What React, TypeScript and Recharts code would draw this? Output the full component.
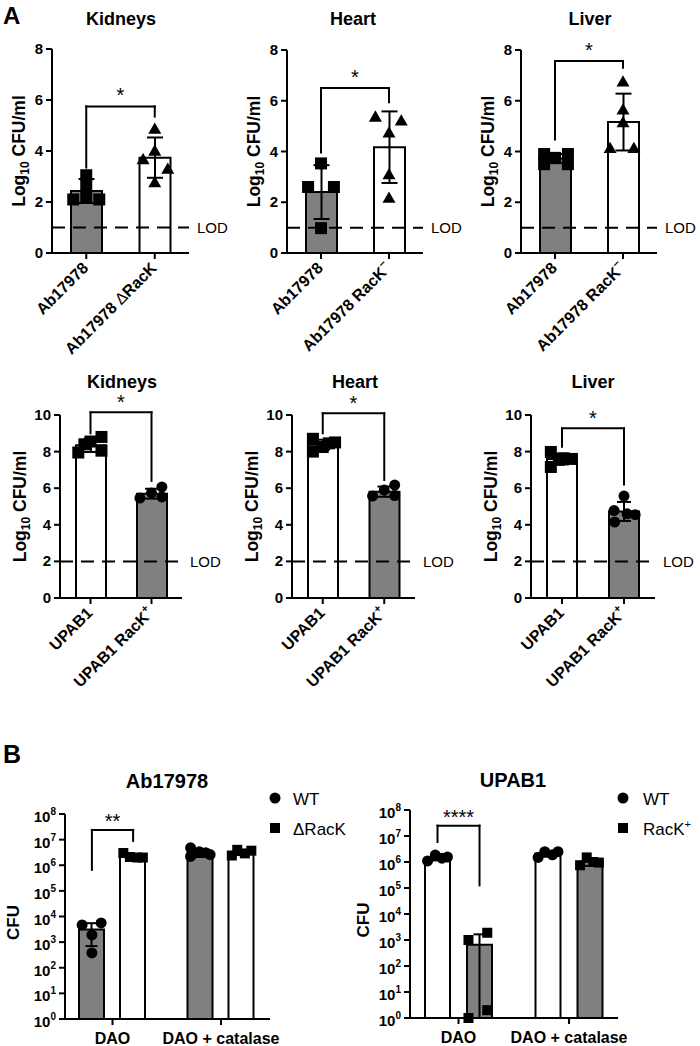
import React from 'react';
import { ComposedChart, Bar, Scatter, XAxis, YAxis, ErrorBar, ReferenceLine, Cell } from 'recharts';

const FONT = '"Liberation Sans", Arial, Helvetica, sans-serif';
const GRAY = '#808080';
const WHITE = '#ffffff';
const BLACK = '#000000';

// ---------------- Panel A, top row ----------------
const kidneysTopCategories = ['Ab17978', 'Ab17978 ΔRacK'];
const heartTopCategories = ['Ab17978', 'Ab17978 RacK⁻'];
const liverTopCategories = ['Ab17978', 'Ab17978 RacK⁻'];

const kidneysTopMeans = [2.43, 3.74];
const kidneysTopSD = [0.47, 0.79];
const kidneysTopWT = [3.05, 2.6, 2.2, 2.1, 2.1];
const kidneysTopWTJitter = [0, 0, 0, -0.19, 0.19];
const kidneysTopMut = [4.9, 4.04, 3.7, 3.33, 2.8];
const kidneysTopMutJitter = [0, 0, -0.17, 0.19, 0];
const kidneysTopBracket = [3.35, 5.75, 5.35];

const heartTopMeans = [2.4, 4.17];
const heartTopSD = [1.06, 1.41];
const heartTopWT = [3.53, 2.6, 2.6, 0.98];
const heartTopWTJitter = [0, -0.19, 0.19, 0];
const heartTopMut = [5.4, 5.25, 4.77, 3.13, 2.2];
const heartTopMutJitter = [-0.2, 0.18, 0, 0, 0];
const heartTopBracket = [3.96, 6.5, 5.94];

const liverTopMeans = [3.72, 5.16];
const liverTopSD = [0.18, 1.12];
const liverTopWT = [3.9, 3.5, 3.9, 3.5, 3.75];
const liverTopWTJitter = [-0.16, -0.16, 0.19, 0.19, 0];
const liverTopMut = [6.78, 5.68, 5.18, 4.16, 4.16];
const liverTopMutJitter = [0, 0, 0, -0.19, 0.16];
const liverTopBracket = [4.47, 7.57, 7.3];

const topYTicks = [0, 2, 4, 6, 8];
const topLOD = 1;

// ---------------- Panel A, bottom row ----------------
const bottomCategories = ['UPAB1', 'UPAB1 RacK⁺'];

const kidneysBottomMeans = [8.35, 5.7];
const kidneysBottomSD = [0.37, 0.27];
const kidneysBottomWT = [7.95, 8.4, 8.55, 8.8, 8.05];
const kidneysBottomWTJitter = [-0.2, -0.1, 0, 0.18, 0.18];
const kidneysBottomMut = [6.07, 5.46, 5.52, 5.74];
const kidneysBottomMutJitter = [0.17, -0.19, 0.17, 0];
const kidneysBottomBracket = [9.0, 10.15, 6.4];

const heartBottomMeans = [8.38, 5.81];
const heartBottomSD = [0.27, 0.28];
const heartBottomWT = [8.7, 8.0, 8.25, 8.5, 8.45];
const heartBottomWTJitter = [-0.16, -0.16, 0, 0.2, 0.1];
const heartBottomMut = [6.17, 5.57, 5.6, 5.9];
const heartBottomMutJitter = [0.17, -0.19, 0.17, 0];
const heartBottomBracket = [9.0, 10.1, 6.45];

const liverBottomMeans = [7.6, 4.73];
const liverBottomSD = [0.3, 0.52];
const liverBottomWT = [7.98, 7.16, 7.62, 7.6, 7.55];
const liverBottomWTJitter = [-0.18, -0.18, 0.03, 0.16, -0.05];
const liverBottomMut = [5.57, 4.78, 4.55, 4.15, 4.6];
const liverBottomMutJitter = [0, -0.16, 0.18, -0.15, 0.05];
const liverBottomBracket = [8.27, 9.28, 6.2];

const bottomYTicks = [0, 2, 4, 6, 8, 10];
const bottomLOD = 2;

// ---------------- Panel B ----------------
const bCategories = ['DAO', 'DAO + catalase'];
const logTicks = [1, 10, 100, 1e3, 1e4, 1e5, 1e6, 1e7, 1e8];

const abMeansWT = [3.1e3, 3.1e6];
const abSDWT = [2.4e3, 1.0e6];
const abMeansMut = [2.1e6, 3.2e6];
const abSDMut = [5e5, 7e5];
const abWTDAO = [4700, 5600, 1900, 380];
const abWTDAOJitter = [-0.09, 0.085, 0, 0];
const abMutDAO = [3.0e6, 2.1e6, 2.0e6, 2.0e6];
const abMutDAOJitter = [-0.09, -0.03, 0.04, 0.09];
const abWTCat = [4.8e6, 2.2e6, 3.4e6, 3.1e6, 2.6e6];
const abWTCatJitter = [-0.09, -0.09, -0.01, 0.05, 0.09];
const abMutCat = [2.4e6, 4.0e6, 2.9e6, 3.7e6];
const abMutCatJitter = [-0.09, -0.04, 0.03, 0.09];
const abBracket = [6.6e5, 2.4e7, 8.9e6];

const upMeansWT = [1.45e6, 2.1e6];
const upSDWT = [3e5, 5e5];
const upMeansMut = [650, 1.03e6];
const upSDMut = [1000, 3.2e5];
const upWTDAO = [1.1e6, 1.85e6, 1.4e6, 1.55e6];
const upWTDAOJitter = [-0.09, -0.02, 0.04, 0.09];
const upMutDAO = [1000, 1900, 2, 1];
const upMutDAOJitter = [-0.1, 0.07, 0.07, -0.1];
const upWTCat = [1.5e6, 2.5e6, 1.9e6, 2.5e6];
const upWTCatJitter = [-0.09, -0.03, 0.04, 0.09];
const upMutCat = [7.5e5, 1.5e6, 1.0e6, 9.5e5];
const upMutCatJitter = [-0.09, -0.03, 0.03, 0.08];
const upBracket = [5.9e6, 2.5e7, 1.26e5];

// ---------------- helpers ----------------
type Pt = { x: number; v: number };
type ShapeKind = 'square' | 'circle' | 'triangle';
interface BarSpec { dataKey: string; errKey: string; fill?: string; cellFills?: string[] }

const pts = (center: number, values: number[], jitter: number[]): Pt[] =>
  values.map((v, i) => ({ x: center + jitter[i], v }));

const GROUP_SHIFT = 0.19;
const logErr = (m: number, s: number): [number, number] => [Math.min(s, m - 1), s];

const makeShape = (kind: ShapeKind, s: number) => (props: any) => {
  const { cx, cy } = props;
  if (cx == null || cy == null) return <g />;
  if (kind === 'square') return <rect x={cx - s / 2} y={cy - s / 2} width={s} height={s} fill={BLACK} />;
  if (kind === 'circle') return <circle cx={cx} cy={cy} r={s / 2} fill={BLACK} />;
  const h = s * 0.87;
  return (
    <polygon
      points={`${cx},${cy - h / 2} ${cx - s / 2},${cy + h / 2} ${cx + s / 2},${cy + h / 2}`}
      fill={BLACK}
    />
  );
};

function renderLabel(label: string) {
  let main = label;
  let sup: string | null = null;
  if (label.endsWith('⁻')) { main = label.slice(0, -1); sup = '−'; }
  else if (label.endsWith('⁺')) { main = label.slice(0, -1); sup = '+'; }
  const parts: React.ReactNode[] = [];
  const di = main.indexOf('Δ');
  if (di >= 0) {
    parts.push(<tspan key="a">{main.slice(0, di)}</tspan>);
    parts.push(<tspan key="d" fontWeight="normal">Δ</tspan>);
    parts.push(<tspan key="b">{main.slice(di + 1)}</tspan>);
  } else {
    parts.push(<tspan key="a">{main}</tspan>);
  }
  if (sup) parts.push(<tspan key="s" dy={-7} fontSize={11}>{sup}</tspan>);
  return parts;
}

const XTick = (props: any) => {
  const { x, y, index, labels, rotated } = props;
  const label: string = labels[index] ?? '';
  if (rotated) {
    return (
      <g transform={`translate(${x + 3},${y + 8})`}>
        <text textAnchor="end" transform="rotate(-45)" fontSize={16} fontWeight="bold" fontFamily={FONT} fill={BLACK}>
          {renderLabel(label)}
        </text>
      </g>
    );
  }
  return (
    <text x={x} y={y + 17} textAnchor="middle" fontSize={16} fontWeight="bold" fontFamily={FONT} fill={BLACK}>
      {label}
    </text>
  );
};

const NumTick = (props: any) => (
  <text x={props.x} y={props.y} dy={5} textAnchor="end" fontSize={15} fontWeight="bold" fontFamily={FONT} fill={BLACK}>
    {props.payload.value}
  </text>
);

const LogTick = (props: any) => {
  const exp = Math.round(Math.log10(props.payload.value));
  return (
    <text x={props.x} y={props.y} dy={8} textAnchor="end" fontSize={15} fontWeight="bold" fontFamily={FONT} fill={BLACK}>
      <tspan>10</tspan>
      <tspan dy={-7} fontSize={10}>{exp}</tspan>
    </text>
  );
};

interface Series { points: Pt[]; shape: ShapeKind; size: number }
interface PanelProps {
  plot: { x: number; y: number; w: number; h: number };
  pad: { l: number; t: number; r: number; b: number };
  yDomain: [number, number];
  yTicks: number[];
  log?: boolean;
  xDomain: [number, number];
  xTicks: number[];
  catLabels: string[];
  catPadding: { left: number; right: number };
  rotated: boolean;
  rows: any[];
  barSpecs: BarSpec[];
  barSize: number;
  barGap: number;
  capHalf: number;
  series: Series[];
  bracket: { x1: number; x2: number; vals: number[]; text: string; offset: number };
  lod?: number;
  yTitle: 'log10' | 'cfu';
  yTitleOffset: number;
  yTitleShift?: number;
}

function Panel(p: PanelProps) {
  const { plot, pad } = p;
  const YW = 40;
  const XH = pad.b - 5;
  const width = pad.l + plot.w + pad.r;
  const height = pad.t + plot.h + pad.b;
  const axisStyle = { stroke: BLACK, strokeWidth: 2 };
  const titleX = pad.l - p.yTitleOffset;
  const titleY = pad.t + plot.h / 2 + (p.yTitleShift ?? 0);
  const [b1, bTop, b2] = p.bracket.vals;
  const lineProps = { stroke: BLACK, strokeWidth: 2, ifOverflow: 'visible' as const, strokeLinecap: 'square' as const };
  return (
    <div style={{ position: 'absolute', left: plot.x - pad.l, top: plot.y - pad.t, width, height }}>
      <ComposedChart
        width={width}
        height={height}
        data={p.rows}
        barGap={p.barGap}
        margin={{ top: pad.t, right: pad.r, bottom: pad.b - XH, left: pad.l - YW }}
      >
        <XAxis
          type="number"
          dataKey="x"
          domain={p.xDomain}
          ticks={p.xTicks}
          interval={0}
          height={XH}
          tickSize={6}
          tickMargin={2}
          axisLine={axisStyle}
          tickLine={axisStyle}
          tick={(tp: any) => <XTick {...tp} labels={p.catLabels} rotated={p.rotated} />}
        />
        <XAxis xAxisId="cat" type="category" dataKey="cat" hide padding={p.catPadding} />
        <YAxis
          type="number"
          domain={p.yDomain}
          ticks={p.yTicks}
          scale={p.log ? 'log' : 'linear'}
          interval={0}
          width={YW}
          tickSize={6}
          tickMargin={3}
          axisLine={axisStyle}
          tickLine={axisStyle}
          tick={p.log ? LogTick : NumTick}
          label={() =>
            p.yTitle === 'log10' ? (
              <text
                transform={`translate(${titleX},${titleY}) rotate(-90)`}
                dy={6}
                textAnchor="middle"
                fontSize={17.5}
                fontWeight="bold"
                fontFamily={FONT}
                fill={BLACK}
              >
                Log<tspan dy={4} fontSize={12}>10</tspan>
                <tspan dy={-4}> CFU/ml</tspan>
              </text>
            ) : (
              <text
                transform={`translate(${titleX},${titleY}) rotate(-90)`}
                dy={6}
                textAnchor="middle"
                fontSize={17}
                fontWeight="bold"
                fontFamily={FONT}
                fill={BLACK}
              >
                CFU
              </text>
            )
          }
        />
        {p.barSpecs.map((b) => (
          <Bar
            key={b.dataKey}
            xAxisId="cat"
            dataKey={b.dataKey}
            barSize={p.barSize}
            fill={b.fill ?? WHITE}
            stroke={BLACK}
            strokeWidth={2}
            isAnimationActive={false}
          >
            {b.cellFills && b.cellFills.map((f, i) => <Cell key={i} fill={f} />)}
            <ErrorBar dataKey={b.errKey} width={p.capHalf} stroke={BLACK} strokeWidth={2} direction="y" />
          </Bar>
        ))}
        {p.lod != null && (
          <ReferenceLine
            y={p.lod}
            stroke={BLACK}
            strokeWidth={2}
            strokeDasharray="13 8"
            label={{ value: 'LOD', position: 'right', offset: 8, fill: BLACK, fontSize: 15, fontFamily: FONT }}
          />
        )}
        {p.series.map((s, i) => (
          <Scatter key={i} data={s.points} dataKey="v" isAnimationActive={false} shape={makeShape(s.shape, s.size)} />
        ))}
        <ReferenceLine segment={[{ x: p.bracket.x1, y: b1 }, { x: p.bracket.x1, y: bTop }]} {...lineProps} />
        <ReferenceLine
          segment={[{ x: p.bracket.x1, y: bTop }, { x: p.bracket.x2, y: bTop }]}
          {...lineProps}
          label={{ value: p.bracket.text, position: 'top', offset: p.bracket.offset, fill: BLACK, fontSize: 20, fontFamily: FONT }}
        />
        <ReferenceLine segment={[{ x: p.bracket.x2, y: bTop }, { x: p.bracket.x2, y: b2 }]} {...lineProps} />
      </ComposedChart>
    </div>
  );
}

const TOP_PAD = { l: 60, t: 45, r: 50, b: 110 };
const BOTTOM_PAD = { l: 60, t: 45, r: 50, b: 110 };
const B_PAD = { l: 60, t: 40, r: 10, b: 27 };

const singleRows = (cats: string[], means: number[], sd: number[]) =>
  cats.map((c, i) => ({ cat: c, v: means[i], err: [sd[i], sd[i]] }));

const groupedRows = (mWT: number[], sWT: number[], mMut: number[], sMut: number[]) =>
  bCategories.map((c, i) => ({
    cat: c, wt: mWT[i], wtErr: logErr(mWT[i], sWT[i]), mut: mMut[i], mutErr: logErr(mMut[i], sMut[i]),
  }));

const topPanel = (
  plot: PanelProps['plot'], cats: string[], means: number[], sd: number[],
  wt: number[], wtJ: number[], mut: number[], mutJ: number[], bracket: number[]
): PanelProps => ({
  plot, pad: TOP_PAD, yDomain: [0, 8], yTicks: topYTicks, xDomain: [0, 2], xTicks: [0.5, 1.5],
  catLabels: cats, catPadding: { left: 0, right: 0 }, rotated: true,
  rows: singleRows(cats, means, sd),
  barSpecs: [{ dataKey: 'v', errKey: 'err', cellFills: [GRAY, WHITE] }],
  barSize: 31, barGap: 0, capHalf: 8,
  series: [
    { points: pts(0.5, wt, wtJ), shape: 'square', size: 12 },
    { points: pts(1.5, mut, mutJ), shape: 'triangle', size: 13 },
  ],
  bracket: { x1: 0.5, x2: 1.5, vals: bracket, text: '*', offset: 4 },
  lod: topLOD, yTitle: 'log10', yTitleOffset: 33,
});

const bottomPanel = (
  plot: PanelProps['plot'], means: number[], sd: number[],
  wt: number[], wtJ: number[], mut: number[], mutJ: number[], bracket: number[]
): PanelProps => ({
  plot, pad: BOTTOM_PAD, yDomain: [0, 10], yTicks: bottomYTicks, xDomain: [0, 2], xTicks: [0.5, 1.5],
  catLabels: bottomCategories, catPadding: { left: 0, right: 0 }, rotated: true,
  rows: singleRows(bottomCategories, means, sd),
  barSpecs: [{ dataKey: 'v', errKey: 'err', cellFills: [WHITE, GRAY] }],
  barSize: 30, barGap: 0, capHalf: 7,
  series: [
    { points: pts(0.5, wt, wtJ), shape: 'square', size: 12 },
    { points: pts(1.5, mut, mutJ), shape: 'circle', size: 11 },
  ],
  bracket: { x1: 0.5, x2: 1.5, vals: bracket, text: '*', offset: 3 },
  lod: bottomLOD, yTitle: 'log10', yTitleOffset: 40,
});

const panels: PanelProps[] = [
  topPanel({ x: 52, y: 49, w: 137, h: 204 }, kidneysTopCategories, kidneysTopMeans, kidneysTopSD,
    kidneysTopWT, kidneysTopWTJitter, kidneysTopMut, kidneysTopMutJitter, kidneysTopBracket),
  topPanel({ x: 287, y: 50, w: 136, h: 203 }, heartTopCategories, heartTopMeans, heartTopSD,
    heartTopWT, heartTopWTJitter, heartTopMut, heartTopMutJitter, heartTopBracket),
  topPanel({ x: 521, y: 50, w: 136, h: 203 }, liverTopCategories, liverTopMeans, liverTopSD,
    liverTopWT, liverTopWTJitter, liverTopMut, liverTopMutJitter, liverTopBracket),
  bottomPanel({ x: 60, y: 415, w: 122, h: 183 }, kidneysBottomMeans, kidneysBottomSD,
    kidneysBottomWT, kidneysBottomWTJitter, kidneysBottomMut, kidneysBottomMutJitter, kidneysBottomBracket),
  bottomPanel({ x: 292, y: 415, w: 123, h: 183 }, heartBottomMeans, heartBottomSD,
    heartBottomWT, heartBottomWTJitter, heartBottomMut, heartBottomMutJitter, heartBottomBracket),
  bottomPanel({ x: 531, y: 415, w: 124, h: 183 }, liverBottomMeans, liverBottomSD,
    liverBottomWT, liverBottomWTJitter, liverBottomMut, liverBottomMutJitter, liverBottomBracket),
  {
    plot: { x: 65, y: 814, w: 205, h: 205 }, pad: B_PAD, yDomain: [1, 1e8], yTicks: logTicks, log: true,
    xDomain: [0.062, 1.952], xTicks: [0.5, 1.5], catLabels: bCategories,
    catPadding: { left: -7, right: -5 }, rotated: false,
    rows: groupedRows(abMeansWT, abSDWT, abMeansMut, abSDMut),
    barSpecs: [
      { dataKey: 'wt', errKey: 'wtErr', fill: GRAY },
      { dataKey: 'mut', errKey: 'mutErr', fill: WHITE },
    ],
    barSize: 25, barGap: 16, capHalf: 6,
    series: [
      { points: [...pts(0.5 - GROUP_SHIFT, abWTDAO, abWTDAOJitter), ...pts(1.5 - GROUP_SHIFT, abWTCat, abWTCatJitter)], shape: 'circle', size: 11 },
      { points: [...pts(0.5 + GROUP_SHIFT, abMutDAO, abMutDAOJitter), ...pts(1.5 + GROUP_SHIFT, abMutCat, abMutCatJitter)], shape: 'square', size: 10 },
    ],
    bracket: { x1: 0.5 - GROUP_SHIFT, x2: 0.5 + GROUP_SHIFT, vals: abBracket, text: '**', offset: 2 },
    yTitle: 'cfu', yTitleOffset: 52, yTitleShift: 6,
  },
  {
    plot: { x: 410, y: 810, w: 208, h: 208 }, pad: B_PAD, yDomain: [1, 1e8], yTicks: logTicks, log: true,
    xDomain: [0.061, 1.943], xTicks: [0.5, 1.5], catLabels: bCategories,
    catPadding: { left: -7, right: -6 }, rotated: false,
    rows: groupedRows(upMeansWT, upSDWT, upMeansMut, upSDMut),
    barSpecs: [
      { dataKey: 'wt', errKey: 'wtErr', fill: WHITE },
      { dataKey: 'mut', errKey: 'mutErr', fill: GRAY },
    ],
    barSize: 25, barGap: 17, capHalf: 6,
    series: [
      { points: [...pts(0.5 - GROUP_SHIFT, upWTDAO, upWTDAOJitter), ...pts(1.5 - GROUP_SHIFT, upWTCat, upWTCatJitter)], shape: 'circle', size: 11 },
      { points: [...pts(0.5 + GROUP_SHIFT, upMutDAO, upMutDAOJitter), ...pts(1.5 + GROUP_SHIFT, upMutCat, upMutCatJitter)], shape: 'square', size: 10 },
    ],
    bracket: { x1: 0.5 - GROUP_SHIFT, x2: 0.5 + GROUP_SHIFT, vals: upBracket, text: '****', offset: 2 },
    yTitle: 'cfu', yTitleOffset: 47, yTitleShift: 6,
  },
];

const titles = [
  { text: 'Kidneys', x: 121, y: 25, size: 18 },
  { text: 'Heart', x: 353, y: 25, size: 18 },
  { text: 'Liver', x: 590, y: 25, size: 18 },
  { text: 'Kidneys', x: 122, y: 388, size: 18 },
  { text: 'Heart', x: 355, y: 388, size: 18 },
  { text: 'Liver', x: 593, y: 388, size: 18 },
  { text: 'Ab17978', x: 167, y: 788, size: 20 },
  { text: 'UPAB1', x: 513, y: 787, size: 20 },
];

export default function App() {
  return (
    <div
      style={{
        position: 'absolute', left: 0, top: 0, width: 700, height: 1046,
        background: WHITE, overflow: 'hidden', fontFamily: FONT,
      }}
    >
      {panels.map((p, i) => (
        <Panel key={i} {...p} />
      ))}
      <svg width={700} height={1046} style={{ position: 'absolute', left: 0, top: 0, pointerEvents: 'none' }}>
        <text x={3} y={24} fontSize={24} fontWeight="bold" fontFamily={FONT} fill={BLACK}>A</text>
        <text x={3} y={763} fontSize={25} fontWeight="bold" fontFamily={FONT} fill={BLACK}>B</text>
        {titles.map((t, i) => (
          <text key={i} x={t.x} y={t.y} textAnchor="middle" fontSize={t.size} fontWeight="bold" fontFamily={FONT} fill={BLACK}>
            {t.text}
          </text>
        ))}
        <circle cx={275} cy={798} r={5.5} fill={BLACK} />
        <text x={293} y={805} fontSize={17} fontFamily={FONT} fill={BLACK}>WT</text>
        <rect x={270} y={823} width={10} height={10} fill={BLACK} />
        <text x={293} y={835} fontSize={17} fontFamily={FONT} fill={BLACK}>ΔRacK</text>
        <circle cx={623} cy={798} r={5.5} fill={BLACK} />
        <text x={643} y={805} fontSize={17} fontFamily={FONT} fill={BLACK}>WT</text>
        <rect x={618} y={823} width={10} height={10} fill={BLACK} />
        <text x={643} y={835} fontSize={17} fontFamily={FONT} fill={BLACK}>
          RacK<tspan dy={-7} fontSize={11}>+</tspan>
        </text>
      </svg>
    </div>
  );
}
